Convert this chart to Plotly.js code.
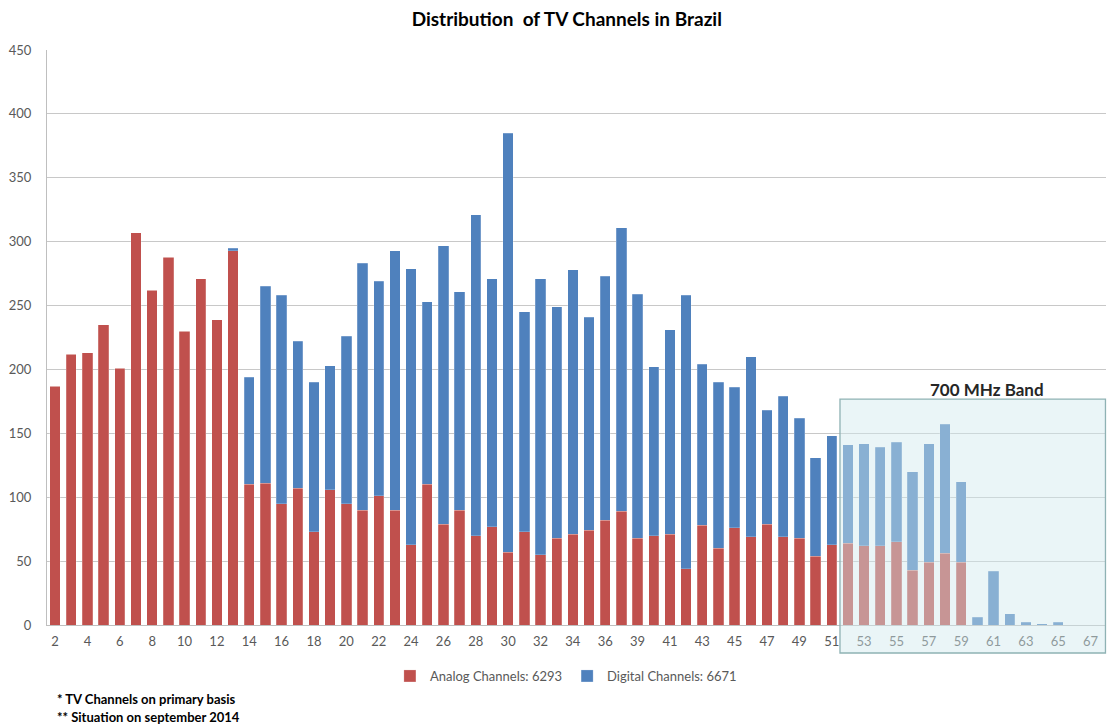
<!DOCTYPE html>
<html>
<head>
<meta charset="utf-8">
<script src="https://cdn.plot.ly/plotly-3.0.1.min.js"></script>
<style>
html,body{margin:0;padding:0;background:#fff;}
#chart{width:1107px;height:725px;}
</style>
</head>
<body>
<div id="chart"></div>
<script>
// Channel numbers (channel 37 is not used)
const channels = ["2","3","4","5","6","7","8","9","10","11","12","13","14","15","16","17","18","19","20","21","22","23","24","25","26","27","28","29","30","31","32","33","34","35","36","38","39","40","41","42","43","44","45","46","47","48","49","50","51","52","53","54","55","56","57","58","59","60","61","62","63","64","65","66","67"];

const analogChannels = [187,212,213,235,201,307,262,288,230,271,239,293,110,111,95,107,73,106,95,90,101,90,63,110,79,90,70,77,57,73,55,68,71,74,82,89,68,70,71,44,78,60,76,69,79,69,68,54,63,64,62,62,65,43,49,56,49,0,0,0,0,0,0,0,0];

const digitalChannels = [0,0,0,0,0,0,0,0,0,0,0,2,84,154,163,115,117,97,131,193,168,203,216,143,218,171,251,194,328,172,216,181,207,167,191,222,191,132,160,214,126,130,110,141,89,110,94,77,85,77,80,77,78,77,93,101,63,6,42,9,2,1,2,0,0];

const xTickLabels = ["2","4","6","8","10","12","14","16","18","20","22","24","26","28","30","32","34","36","39","41","43","45","47","49","51","53","55","57","59","61","63","65","67"];

const analogName = "Analog Channels: 6293";
const digitalName = "Digital Channels: 6671";
const chartTitle = "Distribution  of TV Channels in Brazil";
const bandLabel = "700 MHz Band";
const footnotes = ["* TV Channels on primary basis", "** Situation on september 2014"];

const FONT = "Lato, 'Open Sans', 'Liberation Sans', sans-serif";

const traces = [
  {type:"bar", name:analogName, x:channels, y:analogChannels,
   marker:{color:"#C0504D", line:{color:"rgba(255,255,255,0.35)", width:0.6}}, hoverinfo:"x+y+name"},
  {type:"bar", name:digitalName, x:channels, y:digitalChannels,
   marker:{color:"#4F81BD", line:{color:"rgba(255,255,255,0.35)", width:0.6}}, hoverinfo:"x+y+name"}
];

const layout = {
  width:1107, height:725,
  margin:{l:47, r:1, t:50, b:100},
  paper_bgcolor:"#ffffff", plot_bgcolor:"#ffffff",
  font:{family:FONT, size:13, color:"#595959"},
  barmode:"stack",
  bargap:0.36,
  showlegend:true,
  title:{text:"<b>"+chartTitle+"</b>", x:0.512, xref:"container", xanchor:"center",
         y:0.974, yref:"container", yanchor:"middle",
         font:{family:FONT, size:19, color:"#000000"}},
  xaxis:{type:"category", categoryorder:"array", categoryarray:channels,
         range:[-0.5, 64.95], tickmode:"array", tickvals:xTickLabels, ticktext:xTickLabels,
         showgrid:false, showline:true, linecolor:"#BFBFBF", linewidth:1, ticks:"",
         ticklabelstandoff:4, zeroline:false, fixedrange:true,
         tickfont:{family:FONT, size:13, color:"#595959"}},
  yaxis:{range:[0,450], dtick:50, tick0:0, showgrid:true, gridcolor:"#C8C8C8", gridwidth:1,
         showline:true, linecolor:"#BFBFBF", linewidth:1, ticks:"", zeroline:false,
         ticklabelstandoff:12, fixedrange:true,
         tickfont:{family:FONT, size:13, color:"#595959"}},
  legend:{orientation:"h", x:0.49, xanchor:"center", y:-0.0887, yanchor:"middle",
          font:{family:FONT, size:13, color:"#595959"}, itemwidth:30, traceorder:"normal",
          bgcolor:"rgba(0,0,0,0)"},
  shapes:[
    {type:"rect", xref:"paper", yref:"paper", x0:0.7488, x1:0.9995, y0:-0.0487, y1:0.393,
     layer:"above", fillcolor:"rgba(208,232,238,0.45)", line:{color:"#8FB2B4", width:1.3}}
  ],
  annotations:[
    {text:"<b>"+bandLabel+"</b>", xref:"paper", yref:"paper", x:0.8876, y:0.4087,
     xanchor:"center", yanchor:"middle", showarrow:false,
     font:{family:FONT, size:17, color:"#262626"}},
    {text:"<b>"+footnotes[0]+"</b>", xref:"paper", yref:"paper", x:0.0076, y:-0.1287,
     xanchor:"left", yanchor:"middle", showarrow:false,
     font:{family:FONT, size:13, color:"#000000"}},
    {text:"<b>"+footnotes[1]+"</b>", xref:"paper", yref:"paper", x:0.0076, y:-0.16,
     xanchor:"left", yanchor:"middle", showarrow:false,
     font:{family:FONT, size:13, color:"#000000"}}
  ]
};

Plotly.newPlot("chart", traces, layout, {displayModeBar:false, staticPlot:false});
</script>
</body>
</html>
